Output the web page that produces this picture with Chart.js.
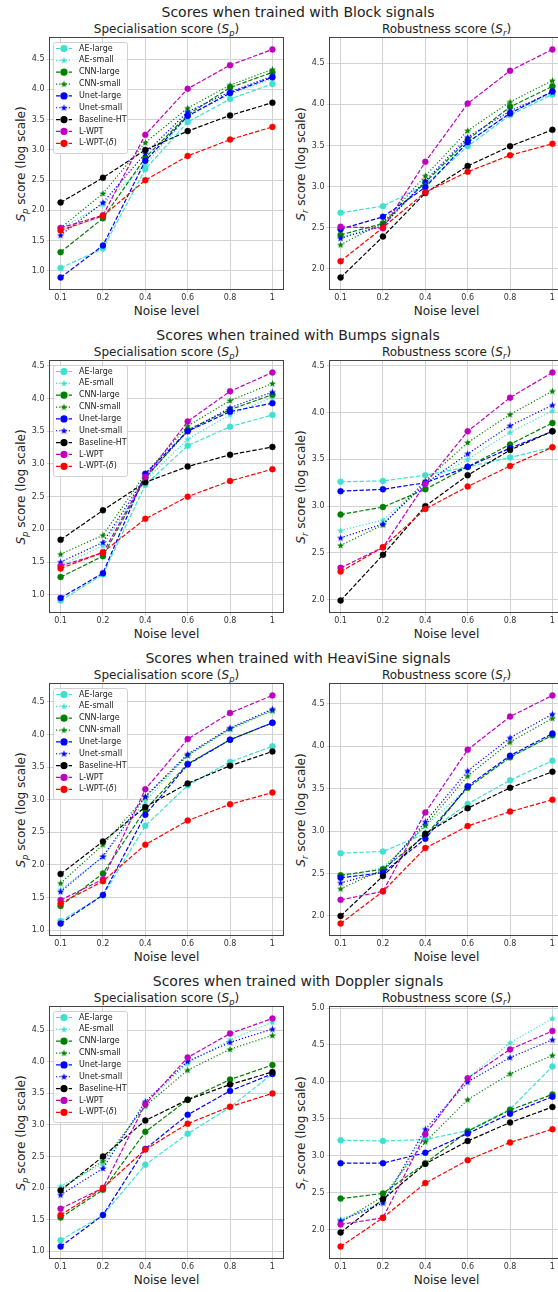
<!DOCTYPE html>
<html>
<head>
<meta charset="utf-8">
<script src="https://cdn.jsdelivr.net/npm/chart.js@4.4.1/dist/chart.umd.min.js"></script>
<style>
  html, body { margin: 0; padding: 0; background: #fff; overflow: hidden; }
  body { width: 558px; height: 1292px; position: relative; font-family: 'DejaVu Sans', sans-serif; color: #222; }
  .txt { position: absolute; white-space: nowrap; line-height: 1; transform: translate(-50%, -50%); }
  .sup { font-size: 14px; }
  .sub, .xlab { font-size: 12px; }
  .ylab { font-size: 12px; transform: translate(-50%, -50%) rotate(-90deg); }
  .txt sub { font-size: 70%; vertical-align: -0.3em; line-height: 0; }
  canvas { position: absolute; }
</style>
</head>
<body>
<script>
// ── Data ───────────────────────────────────────────────────────────────────
const NOISE   = ['0.1', '0.2', '0.4', '0.6', '0.8', '1'];
const MODELS  = ['AE-large', 'AE-small', 'CNN-large', 'CNN-small', 'Unet-large', 'Unet-small', 'Baseline-HT', 'L-WPT', 'L-WPT-(δ)'];
const COLORS  = ['#40E0D0', '#40E0D0', '#008000', '#008000', '#0000FF', '#0000FF', '#000000', '#BF00BF', '#FF0000'];
const DOTTED  = [false, true, false, true, false, true, false, false, false];
const SIGNALS = ['Block', 'Bumps', 'HeaviSine', 'Doppler'];

// one row per model, in MODELS order
const BLOCK_SP = [
  [1.05, 1.37, 2.68, 3.46, 3.84, 4.09],
  [1.70, 2.10, 2.76, 3.55, 3.92, 4.18],
  [1.31, 1.87, 2.87, 3.58, 4.03, 4.28],
  [1.71, 2.28, 3.12, 3.69, 4.07, 4.33],
  [0.89, 1.42, 2.82, 3.56, 3.94, 4.20],
  [1.59, 2.13, 2.94, 3.63, 3.96, 4.22],
  [2.13, 2.54, 3.00, 3.31, 3.57, 3.78],
  [1.71, 1.92, 3.25, 4.01, 4.40, 4.66],
  [1.67, 1.91, 2.50, 2.90, 3.17, 3.38],
];
const BLOCK_SR = [
  [2.68, 2.76, 3.02, 3.49, 3.87, 4.12],
  [2.38, 2.53, 3.05, 3.53, 3.90, 4.14],
  [2.41, 2.55, 3.05, 3.57, 3.97, 4.22],
  [2.29, 2.56, 3.13, 3.68, 4.03, 4.29],
  [2.48, 2.63, 2.99, 3.54, 3.89, 4.16],
  [2.37, 2.52, 3.07, 3.60, 3.92, 4.15],
  [1.89, 2.39, 2.92, 3.25, 3.49, 3.69],
  [2.51, 2.49, 3.30, 4.01, 4.41, 4.67],
  [2.09, 2.50, 2.93, 3.18, 3.38, 3.52],
];
const BUMPS_SP = [
  [0.91, 1.31, 2.68, 3.28, 3.57, 3.75],
  [1.45, 1.75, 2.75, 3.38, 3.75, 4.02],
  [1.27, 1.59, 2.78, 3.52, 3.83, 4.06],
  [1.62, 1.91, 2.85, 3.58, 3.97, 4.23],
  [0.95, 1.33, 2.85, 3.50, 3.80, 3.93],
  [1.50, 1.80, 2.80, 3.50, 3.86, 4.10],
  [1.84, 2.29, 2.72, 2.96, 3.14, 3.26],
  [1.44, 1.64, 2.80, 3.65, 4.11, 4.40],
  [1.40, 1.65, 2.16, 2.50, 2.74, 2.92],
];
const BUMPS_SR = [
  [3.26, 3.27, 3.33, 3.42, 3.52, 3.63],
  [2.74, 2.85, 3.25, 3.50, 3.79, 4.02],
  [2.91, 2.99, 3.18, 3.42, 3.66, 3.89],
  [2.58, 2.80, 3.27, 3.68, 3.98, 4.23],
  [3.16, 3.18, 3.25, 3.42, 3.62, 3.80],
  [2.66, 2.81, 3.24, 3.56, 3.86, 4.08],
  [1.99, 2.48, 3.00, 3.33, 3.60, 3.80],
  [2.34, 2.56, 3.24, 3.80, 4.16, 4.43],
  [2.30, 2.56, 2.97, 3.21, 3.43, 3.63],
];
const HEAVISINE_SP = [
  [1.14, 1.53, 2.60, 3.22, 3.58, 3.82],
  [1.62, 2.12, 2.98, 3.68, 4.08, 4.36],
  [1.37, 1.87, 2.85, 3.55, 3.92, 4.18],
  [1.72, 2.31, 3.04, 3.68, 4.09, 4.37],
  [1.10, 1.54, 2.77, 3.54, 3.92, 4.18],
  [1.59, 2.13, 3.05, 3.70, 4.10, 4.39],
  [1.86, 2.36, 2.89, 3.25, 3.52, 3.74],
  [1.46, 1.78, 3.16, 3.93, 4.33, 4.60],
  [1.41, 1.75, 2.31, 2.68, 2.93, 3.11],
];
const HEAVISINE_SR = [
  [2.74, 2.76, 2.97, 3.32, 3.60, 3.83],
  [2.46, 2.57, 3.06, 3.51, 3.87, 4.13],
  [2.48, 2.55, 2.95, 3.51, 3.87, 4.13],
  [2.32, 2.55, 3.07, 3.65, 4.05, 4.33],
  [2.45, 2.51, 2.91, 3.53, 3.89, 4.15],
  [2.39, 2.52, 3.11, 3.71, 4.10, 4.38],
  [2.00, 2.47, 2.97, 3.27, 3.51, 3.70],
  [2.19, 2.29, 3.22, 3.96, 4.35, 4.60],
  [1.91, 2.29, 2.80, 3.06, 3.23, 3.37],
];
const DOPPLER_SP = [
  [1.17, 1.57, 2.37, 2.86, 3.28, 3.81],
  [2.03, 2.38, 3.33, 3.98, 4.35, 4.63],
  [1.53, 1.97, 2.89, 3.40, 3.72, 3.95],
  [1.98, 2.43, 3.30, 3.87, 4.20, 4.42],
  [1.07, 1.57, 2.62, 3.16, 3.54, 3.81],
  [1.89, 2.31, 3.37, 4.01, 4.31, 4.52],
  [1.96, 2.50, 3.07, 3.40, 3.64, 3.84],
  [1.67, 2.00, 3.33, 4.07, 4.45, 4.69],
  [1.57, 2.00, 2.61, 3.02, 3.29, 3.50],
];
const DOPPLER_SR = [
  [3.21, 3.20, 3.22, 3.34, 3.63, 4.21],
  [2.14, 2.37, 3.30, 4.05, 4.53, 4.86],
  [2.42, 2.49, 2.90, 3.33, 3.62, 3.83],
  [2.10, 2.45, 3.19, 3.76, 4.11, 4.36],
  [2.90, 2.90, 3.04, 3.30, 3.57, 3.80],
  [2.12, 2.36, 3.36, 4.00, 4.33, 4.57],
  [1.96, 2.41, 2.89, 3.20, 3.45, 3.66],
  [2.07, 2.16, 3.29, 4.05, 4.44, 4.69],
  [1.77, 2.16, 2.63, 2.94, 3.18, 3.36],
];

const PANELS = [
  [BLOCK_SP, BLOCK_SR],
  [BUMPS_SP, BUMPS_SR],
  [HEAVISINE_SP, HEAVISINE_SR],
  [DOPPLER_SP, DOPPLER_SR],
];

// ── Layout ─────────────────────────────────────────────────────────────────
const ROW_H = 323;
const PLOT_LEFT = [50, 330];
const PLOT_TOP = 38, PLOT_W = 233, PLOT_H = 251;
const AX_W = 34, AX_H = 16, PAD = 10;
const FONT = "'DejaVu Sans', sans-serif";

// filled five-point star marker
function starImage(color) {
  const s = 9, c = document.createElement('canvas');
  c.width = s; c.height = s;
  const g = c.getContext('2d');
  g.fillStyle = color;
  g.beginPath();
  for (let k = 0; k < 10; k++) {
    const r = k % 2 ? 1.55 : 3.8;
    const a = -Math.PI / 2 + k * Math.PI / 5;
    g.lineTo(s / 2 + r * Math.cos(a), s / 2 + 0.3 + r * Math.sin(a));
  }
  g.closePath();
  g.fill();
  return c;
}
const STARS = COLORS.map(starImage);

function addText(cls, html, x, y) {
  const d = document.createElement('div');
  d.className = 'txt ' + cls;
  d.innerHTML = html;
  d.style.left = x + 'px';
  d.style.top = y + 'px';
  document.body.appendChild(d);
}

// ── Plugins: frame + boxed legend ──────────────────────────────────────────
const framePlugin = {
  id: 'frame',
  afterDraw(chart) {
    const { ctx, chartArea: a } = chart;
    ctx.save();
    ctx.strokeStyle = '#444';
    ctx.lineWidth = 1;
    ctx.strokeRect(a.left - 0.5, a.top - 0.5, a.width + 1, a.height + 1);
    ctx.restore();
  },
};

const legendPlugin = {
  id: 'boxLegend',
  afterDatasetsDraw(chart, args, opts) {
    if (!opts.show) return;
    const { ctx, chartArea: a } = chart;
    const x = a.left + 3.5, y = a.top + 4.5, w = 74, h = 111;
    ctx.save();
    ctx.beginPath();
    ctx.roundRect(x, y, w, h, 2);
    ctx.fillStyle = 'rgba(255,255,255,0.8)';
    ctx.fill();
    ctx.strokeStyle = '#d0d0d0';
    ctx.lineWidth = 1;
    ctx.stroke();
    ctx.font = `8px ${FONT}`;
    ctx.textBaseline = 'middle';
    chart.data.datasets.forEach((ds, i) => {
      const cy = a.top + 10.5 + i * 11.85;
      ctx.strokeStyle = ds.borderColor;
      ctx.lineWidth = ds.borderWidth;
      ctx.setLineDash(ds.borderDash);
      ctx.beginPath();
      ctx.moveTo(a.left + 6, cy);
      ctx.lineTo(a.left + 22, cy);
      ctx.stroke();
      ctx.setLineDash([]);
      ctx.fillStyle = ds.borderColor;
      Chart.helpers.drawPoint(ctx, { pointStyle: ds.pointStyle, radius: ds.pointRadius, borderWidth: ds.pointBorderWidth, rotation: 0 }, a.left + 14, cy);
      // label, with an italic delta where needed
      ctx.fillStyle = '#222';
      let tx = a.left + 29;
      ds.label.split(/(δ)/).forEach(part => {
        if (!part) return;
        ctx.font = part === 'δ' ? `italic 8px ${FONT}` : `8px ${FONT}`;
        ctx.fillText(part, tx, cy);
        tx += ctx.measureText(part).width;
      });
    });
    ctx.restore();
  },
};

// ── Build one subplot ──────────────────────────────────────────────────────
function buildDatasets(rows) {
  return MODELS.map((name, i) => ({
    label: name,
    data: rows[i].map((v, k) => ({ x: k, y: v })),
    borderColor: COLORS[i],
    backgroundColor: COLORS[i],
    borderWidth: 1.2,
    borderDash: DOTTED[i] ? [1.2, 2] : [4.4, 1.9],
    pointStyle: DOTTED[i] ? STARS[i] : 'circle',
    pointRadius: 3,
    pointBorderWidth: 0.4,
    pointBackgroundColor: COLORS[i],
    pointBorderColor: COLORS[i],
    tension: 0,
    order: MODELS.length - i,
  }));
}

function makeChart(rows, left, top, withLegend) {
  const cv = document.createElement('canvas');
  const cw = AX_W + PLOT_W + PAD, ch = PAD + PLOT_H + AX_H;
  cv.width = cw; cv.height = ch;
  cv.style.width = cw + 'px'; cv.style.height = ch + 'px';
  cv.style.left = (left - AX_W) + 'px';
  cv.style.top = (top - PAD) + 'px';
  document.body.appendChild(cv);

  const all = rows.flat();
  const lo = Math.min(...all), hi = Math.max(...all);
  const m = (hi - lo) * 0.05;

  new Chart(cv.getContext('2d'), {
    type: 'line',
    data: { datasets: buildDatasets(rows) },
    options: {
      responsive: false,
      animation: false,
      events: [],
      layout: { padding: { top: PAD, right: PAD, left: 0, bottom: 0 } },
      plugins: { legend: { display: false }, tooltip: { enabled: false }, boxLegend: { show: withLegend } },
      scales: {
        x: {
          type: 'linear', min: -0.25, max: 5.25,
          afterBuildTicks: s => { s.ticks = NOISE.map((_, k) => ({ value: k })); },
          afterFit: s => { s.height = AX_H; },
          ticks: { callback: v => NOISE[v], font: { family: FONT, size: 8 }, color: '#333', padding: 1, maxRotation: 0 },
          grid: { color: '#d3d3d3', lineWidth: 1, tickLength: 3.5 },
          border: { display: false },
        },
        y: {
          type: 'linear', min: lo - m, max: hi + m,
          afterBuildTicks: s => {
            const t = [];
            for (let v = Math.ceil(s.min * 2) / 2; v <= s.max + 1e-9; v += 0.5) t.push({ value: v });
            s.ticks = t;
          },
          afterFit: s => { s.width = AX_W; },
          ticks: { callback: v => v.toFixed(1), font: { family: FONT, size: 8 }, color: '#333', padding: 2 },
          grid: { color: '#d3d3d3', lineWidth: 1, tickLength: 3.5 },
          border: { display: false },
        },
      },
    },
    plugins: [legendPlugin, framePlugin],
  });
}

// ── Render the 4 x 2 grid ──────────────────────────────────────────────────
SIGNALS.forEach((sig, r) => {
  const top = r * ROW_H;
  addText('sup', `Scores when trained with ${sig} signals`, 298, top + 11.5);
  [0, 1].forEach(c => {
    const left = PLOT_LEFT[c];
    const sym = c === 0 ? 'p' : 'r';
    const name = c === 0 ? 'Specialisation score' : 'Robustness score';
    addText('sub', `${name} (<i>S<sub>${sym}</sub></i>)`, left + PLOT_W / 2, top + 29);
    addText('ylab', `<i>S<sub>${sym}</sub></i> score (log scale)`, left - 29, top + PLOT_TOP + PLOT_H / 2);
    addText('xlab', 'Noise level', left + PLOT_W / 2, top + 310.5);
    makeChart(PANELS[r][c], left, top + PLOT_TOP, c === 0);
  });
});
</script>
</body>
</html>
